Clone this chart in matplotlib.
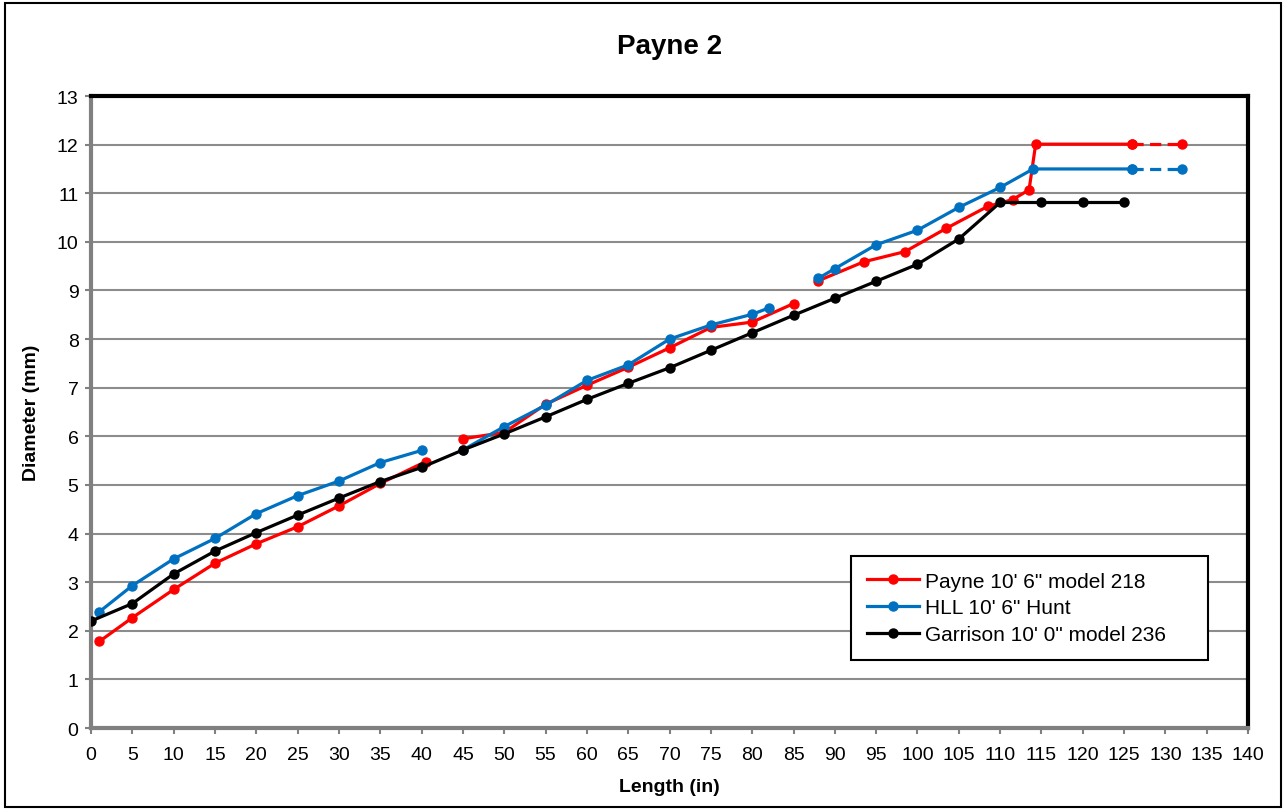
import numpy as np
import matplotlib
matplotlib.use("Agg")
import matplotlib.pyplot as plt
from matplotlib.patches import Rectangle

plt.rcParams['font.family'] = ['Liberation Sans', 'DejaVu Sans']

nan = np.nan

# Payne 10' 6" model 218 (gaps marked with nan)
payne_x = [1, 5, 10, 15, 20, 25, 30, 35, 40.5, nan,
           45, 50, 55, 60, 65, 70, 75, 80, 85, nan,
           88, 93.5, 98.5, 103.5, 108.5, 111.5, 113.5, 114.3, 126]
payne_y = [1.78, 2.27, 2.85, 3.39, 3.79, 4.14, 4.57, 5.03, 5.48, nan,
           5.95, 6.08, 6.66, 7.05, 7.42, 7.82, 8.24, 8.35, 8.73, nan,
           9.2, 9.59, 9.8, 10.28, 10.73, 10.87, 11.07, 12.01, 12.01]
payne_ext_x = [126, 132]
payne_ext_y = [12.01, 12.01]

# HLL 10' 6" Hunt
hll_x = [1, 5, 10, 15, 20, 25, 30, 35, 40, nan,
         45, 50, 55, 60, 65, 70, 75, 80, 82, nan,
         88, 90, 95, 100, 105, 110, 114, 126]
hll_y = [2.39, 2.93, 3.48, 3.90, 4.41, 4.78, 5.08, 5.46, 5.71, nan,
         5.72, 6.2, 6.64, 7.15, 7.47, 8.0, 8.29, 8.51, 8.64, nan,
         9.25, 9.45, 9.94, 10.24, 10.71, 11.12, 11.5, 11.5]
hll_ext_x = [126, 132]
hll_ext_y = [11.5, 11.5]

# Garrison 10' 0" model 236
garrison_x = list(range(0, 130, 5))
garrison_y = [2.2, 2.56, 3.17, 3.64, 4.02, 4.38, 4.73, 5.07, 5.36, 5.72,
              6.05, 6.40, 6.76, 7.09, 7.41, 7.77, 8.13, 8.49, 8.84, 9.19,
              9.54, 10.06, 10.81, 10.81, 10.81, 10.81]

red = '#FF0000'
blue = '#0070C0'

fig = plt.figure(figsize=(12.86, 8.12), dpi=100)
ax = fig.add_axes([0.0708, 0.1022, 0.8997, 0.7783])

lw = 2.3
ms = 6.5
dash = (0, (3.5, 2))
ax.plot(payne_x, payne_y, color=red, lw=lw, marker='o', ms=ms, zorder=3,
        label='Payne 10\' 6" model 218')
ax.plot(payne_ext_x, payne_ext_y, color=red, lw=lw, ls=dash, marker='o', ms=ms, zorder=3)
ax.plot(hll_x, hll_y, color=blue, lw=lw, marker='o', ms=ms, zorder=4,
        label='HLL 10\' 6" Hunt')
ax.plot(hll_ext_x, hll_ext_y, color=blue, lw=lw, ls=dash, marker='o', ms=ms, zorder=4)
ax.plot(garrison_x, garrison_y, color='black', lw=lw, marker='o', ms=ms, zorder=5,
        label='Garrison 10\' 0" model 236')

ax.set_xlim(0, 140)
ax.set_ylim(0, 13)
ax.set_xticks(range(0, 141, 5))
ax.set_yticks(range(0, 14))
ax.tick_params(axis='both', labelsize=14, direction='out', length=4, width=1.5,
               color='#808080', pad=5)
ax.tick_params(axis='x', pad=9)
ax.yaxis.grid(True, color='#8C8C8C', lw=1.5)
ax.set_axisbelow(True)

for s in ['left', 'bottom']:
    ax.spines[s].set_color('#808080')
    ax.spines[s].set_linewidth(3)
for s in ['top', 'right']:
    ax.spines[s].set_color('black')
    ax.spines[s].set_linewidth(3)

ax.set_title('Payne 2', fontsize=20, fontweight='bold', pad=31)
ax.set_xlabel('Length (in)', fontsize=14, fontweight='bold', labelpad=11)
ax.set_ylabel('Diameter (mm)', fontsize=14, fontweight='bold', labelpad=12)

leg = ax.legend(loc='lower left', bbox_to_anchor=(0.6568, 0.1076, 0.3087, 0.16),
                mode='expand', borderaxespad=0,
                fontsize=15, frameon=True, fancybox=False, edgecolor='black',
                framealpha=1, handlelength=2.5, handletextpad=0.3,
                borderpad=0.75, labelspacing=0.38)
leg.get_frame().set_linewidth(1.5)

# outer chart border
fig.patches.append(Rectangle((0.004, 0.005), 0.992, 0.99, transform=fig.transFigure,
                             fill=False, edgecolor='black', lw=1.5))

fig.savefig('out.png', dpi=100)
